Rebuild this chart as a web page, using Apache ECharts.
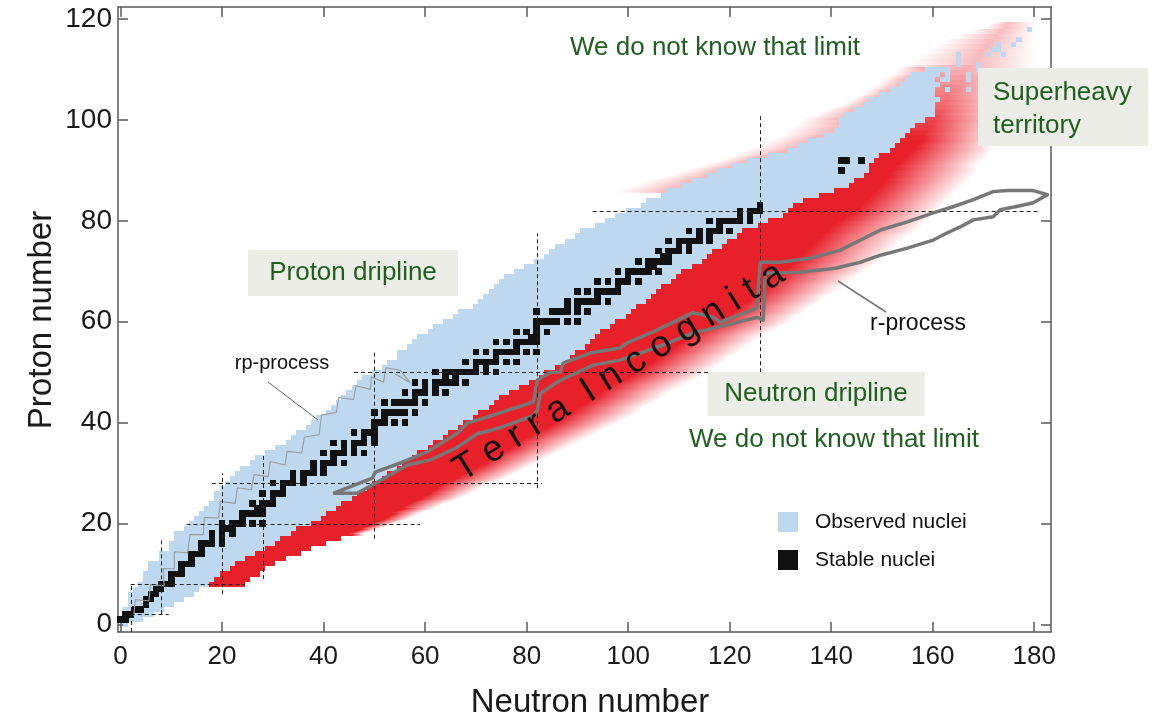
<!DOCTYPE html>
<html><head><meta charset="utf-8">
<script src="https://cdn.jsdelivr.net/npm/echarts@6/dist/echarts.min.js"></script>
<style>html,body{margin:0;padding:0;background:#fff}#c{width:1167px;height:721px}</style>
</head><body><div id="c"></div>
<script>
// ---------------- DATA ----------------
const xTicks = [0, 20, 40, 60, 80, 100, 120, 140, 160, 180];
const yTicks = [0, 20, 40, 60, 80, 100, 120];

// observed nuclei: [Z, Nmin, Nmax]
const observedRows = [
[0,1,1],[1,0,4],[2,1,6],[3,1,8],[4,2,10],[5,2,12],[6,2,14],[7,3,15],[8,4,17],[9,5,18],
[10,5,19],[11,6,21],[12,6,22],[13,8,24],[14,8,26],[15,10,28],[16,10,30],[17,11,31],[18,11,33],[19,13,34],
[20,14,37],[21,15,39],[22,16,40],[23,17,42],[24,18,43],[25,19,45],[26,19,46],[27,20,48],[28,21,49],[29,22,51],
[30,23,52],[31,24,54],[32,26,55],[33,27,57],[34,29,58],[35,31,60],[36,33,61],[37,34,63],[38,35,64],[39,37,66],
[40,38,67],[41,39,69],[42,41,70],[43,42,72],[44,43,73],[45,44,74],[46,45,76],[47,46,78],[48,47,80],[49,48,82],
[50,50,83],[51,52,85],[52,53,87],[53,55,88],[54,55,89],[55,57,91],[56,58,92],[57,59,93],[58,61,94],[59,62,96],
[60,64,97],[61,66,99],[62,67,100],[63,70,101],[64,71,103],[65,72,104],[66,73,105],[67,74,106],[68,75,108],[69,76,109],
[70,78,110],[71,80,112],[72,82,114],[73,84,115],[74,85,116],[75,86,118],[76,88,119],[77,90,121],[78,91,122],[79,94,125],
[80,96,127],[81,98,130],[82,100,131],[83,103,132],[84,104,134],[85,107,137],[86,108,140],[87,111,143],[88,113,144],[89,116,146],
[90,118,147],[91,121,147],[92,124,148],[93,128,149],[94,132,151],[95,134,152],[96,136,153],[97,139,154],[98,141,155],[99,142,156],
[100,142,158],[101,143,160],[102,145,160],[103,147,160],[104,148,160],[105,150,160],[106,152,160],[107,154,160],[108,155,160],[109,156,160],
[110,159,161]
];
// isolated observed superheavy nuclei: [N, Z]
const superheavyObserved = [
[161,104],[163,106],[167,106],[161,107],[162,108],[163,108],[167,108],[161,109],[163,109],[167,109],
[162,110],[163,110],[169,110],[165,111],[169,111],[165,112],[165,113],[171,113],[174,113],[172,114],
[173,114],[173,115],[176,115],[177,116],[179,118]
];
// stable nuclei: [Z, [N...]]
const stableNuclei = [
[1,[0,1]],[2,[1,2]],[3,[3,4]],[4,[5]],[5,[5,6]],[6,[6,7]],[7,[7,8]],[8,[8,9,10]],[9,[10]],[10,[10,11,12]],
[11,[12]],[12,[12,13,14]],[13,[14]],[14,[14,15,16]],[15,[16]],[16,[16,17,18,20]],[17,[18,20]],[18,[18,20,22]],
[19,[20,21,22]],[20,[20,22,23,24,26,28]],[21,[24]],[22,[24,25,26,27,28]],[23,[27,28]],[24,[26,28,29,30]],
[25,[30]],[26,[28,30,31,32]],[27,[32]],[28,[30,32,33,34,36]],[29,[34,36]],[30,[34,36,37,38,40]],[31,[38,40]],
[32,[38,40,41,42,44]],[33,[42]],[34,[40,42,43,44,46,48]],[35,[44,46]],[36,[42,44,46,47,48,50]],[37,[48,50]],
[38,[46,48,49,50]],[39,[50]],[40,[50,51,52,54,56]],[41,[52]],[42,[50,52,53,54,55,56,58]],
[44,[52,54,55,56,57,58,60]],[45,[58]],[46,[56,58,59,60,62,64]],[47,[60,62]],[48,[58,60,62,63,64,65,66,68]],
[49,[64,66]],[50,[62,64,65,66,67,68,69,70,72,74]],[51,[70,72]],[52,[68,70,71,72,73,74,76,78]],[53,[74]],
[54,[70,72,74,75,76,77,78,80,82]],[55,[78]],[56,[74,76,78,79,80,81,82]],[57,[81,82]],[58,[78,80,82,84]],
[59,[82]],[60,[82,83,84,85,86,88,90]],[62,[82,85,86,87,88,90,92]],[63,[88,90]],[64,[88,90,91,92,93,94,96]],
[65,[94]],[66,[90,92,94,95,96,97,98]],[67,[98]],[68,[94,96,98,99,100,102]],[69,[100]],
[70,[98,100,101,102,103,104,106]],[71,[104,105]],[72,[102,104,105,106,107,108]],[73,[107,108]],
[74,[106,108,109,110,112]],[75,[110,112]],[76,[108,110,111,112,113,114,116]],[77,[114,116]],
[78,[112,114,116,117,118,120]],[79,[118]],[80,[116,118,119,120,121,122,124]],[81,[122,124]],
[82,[122,124,125,126]],[83,[126]],[90,[142]],[92,[142,143,146]]
];
// predicted (unobserved) neutron-rich nuclei: [Z, N where solid red ends, N where fade ends]
const predictedRows = [
[8,24.5,24.5],[9,25.5,25.5],[10,27.5,27.5],[11,28.5,28.5],[12,30.5,30.5],[13,32.5,32.5],[14,35.5,35.5],[15,37.5,37.5],[16,40.5,40.5],[17,43.5,43.5],
[18,45.5,48],[19,47.5,51],[20,50,54],[21,52,57],[22,54,59],[23,55,62],[24,57,64],[25,59,67],[26,61,69],[27,62,71],
[28,64,73],[29,66,76],[30,68,78],[31,70,80],[32,72,82],[33,73,84],[34,75,86],[35,77,88],[36,78,90],[37,80,92],
[38,82,94],[39,84,96],[40,86,98],[41,87,100],[42,89,102],[43,90,103],[44,92,105],[45,93,107],[46,95,108],[47,96,110],
[48,98,112],[49,100,114],[50,102,116],[51,103,117],[52,105,119],[53,106,120],[54,108,122],[55,109,123],[56,111,125],[57,112,126],
[58,114,128],[59,116,130],[60,118,132],[61,119,133],[62,121,135],[63,122,136],[64,123,138],[65,125,139],[66,126,141],[67,127,142],
[68,128,144],[69,130,145],[70,131,147],[71,132,148],[72,133,150],[73,134,151],[74,135,152],[75,136,153],[76,137,154],[77,138,155],
[78,139,157],[79,140,158],[80,142,159],[81,143,160],[82,145,161],[83,146,162],[84,147,163],[85,148,164],[86,149,165],[87,150,166],
[88,151,167],[89,151,168],[90,152,169],[91,153,169],[92,154,170],[93,155,171],[94,156,172],[95,157,172],[96,158,173],[97,158,173],
[98,159,174],[99,160,174],[100,161,175],[101,161,175],[102,162,176],[103,162,176],[104,163,177],[105,163,177],[106,164,178],[107,165,178],
[108,166,179],[109,166,179],[110,167,179],[111,168,180],[112,169,180],[113,169,180],[114,170,180],[115,171,180],[116,172,180],[117,173,180],
[118,174,180],[119,175,180]
];
// proton-rich predicted fade (superheavy side): [Z, N where fade starts]
const protonSideRows = [
[86,98],[87,101],[88,104],[89,108],[90,111],[91,115],[92,118],[93,121],[94,123],[95,126],[96,128],[97,130],
[98,131],[99,133],[100,134],[101,137],[102,139],[103,142],[104,144],[105,146],[106,147],[107,149],[108,150],[109,152],[110,153],
[111,155],[112,156],[113,158],[114,160],[115,161],[116,163],[117,166],[118,169],[119,172]
];
// magic-number guide lines: [N, Zfrom, Zto] and [Z, Nfrom, Nto]
const magicN = [[2,-1.5,8],[8,2,17],[20,6,30],[28,9,34],[50,17,54],[82,27,77.5],[126,50,101]];
const magicZ = [[2,2,9.5],[8,2,24.5],[20,13,59],[28,18,83],[50,46,116],[82,93,181]];
// rp-process path [N, Z]
const rpProcess = [
[2.6,1.7],[2.9,4.9],[5.6,4.7],[5.9,7.9],[8.6,7.7],[8.4,11.1],[10.6,11],[10.6,14.4],[13.2,14.2],[13.7,17.8],
[16.3,17.8],[16.5,21.2],[19.3,21.1],[19.7,24.4],[22.6,24],[23,27.1],[25.8,26.7],[26.3,29.7],[29.1,29.3],[29.5,32.3],
[32.4,31.6],[32.8,34.3],[35.7,34],[36.2,37.1],[39.1,37.6],[39.6,41.5],[42.5,42],[43,45],[45.9,44.6],[46.4,47.3],
[49.2,46.6],[49.4,49.1],[51.8,48],[52.3,50.9],[55.1,50.4],[57.1,47.9],[54,49.7]
];
// r-process region outline [N, Z]
const rProcess = [
[41.9,26.0],[49.6,29.0],[50.2,30.2],[55.1,32.0],[60.4,34.2],[66.3,37.9],[68.3,39.9],[72.2,41.1],[81.3,44.1],[82.1,48.4],
[84.7,50.0],[86.6,50.0],[87.2,51.8],[92.5,53.8],[98.4,54.8],[99.8,55.8],[104.9,58.0],[112.8,61.8],[116.8,60.9],[118.1,59.9],
[125.4,62.7],[126.0,71.8],[129.9,71.8],[135.9,72.6],[141.8,74.2],[149.7,78.2],[155.0,79.8],[160.1,81.6],[164.0,82.8],[168.0,84.2],
[171.9,85.8],[174.7,86.0],[179.8,86.0],[182.6,85.2],[179.8,83.6],[177.2,83.0],[173.3,82.2],[171.9,80.8],[168.0,80.2],[165.4,78.8],
[162.8,77.6],[160.1,76.2],[155.0,74.6],[149.7,73.2],[145.7,71.8],[140.8,70.6],[133.9,69.8],[127.0,69.6],[126.6,60.3],[125.4,60.9],
[116.8,58.7],[112.8,57.8],[106.9,55.4],[98.4,52.4],[93.1,51.4],[86.6,48.4],[82.7,45.8],[82.1,42.4],[81.3,41.4],[74.8,39.0],
[70.3,37.8],[66.3,35.1],[61.0,32.6],[56.5,31.6],[50.6,28.2],[46.6,26.0],[41.9,26.0]
];

// ---------------- HELPERS ----------------
const RED = [232, 32, 42];
const BLUE = '#bdd8ef';
const GREEN = '#1f5f1f';
const SANS = "'Liberation Sans', Arial, sans-serif";
const PINK_MAX = 0.3;
const rgba = a => `rgba(${RED[0]},${RED[1]},${RED[2]},${a})`;
const peakAlpha = z => z <= 96 ? 1 : Math.max(0.3, 1 - (z - 96) * 0.045);
const obsMap = {}; observedRows.forEach(r => obsMap[r[0]] = r);
const pinkMap = {}; protonSideRows.forEach(r => pinkMap[r[0]] = r[1]);

const stableCells = [];
stableNuclei.forEach(([z, ns]) => ns.forEach(n => stableCells.push([n, z])));

function box2(api, x0, x1, y0, y1) {
  const p0 = api.coord([x0, y1]), p1 = api.coord([x1, y0]);
  const X0 = Math.round(p0[0]), X1 = Math.round(p1[0]);
  const Y0 = Math.round(p0[1]), Y1 = Math.round(p1[1]);
  return { x: X0, y: Y0, width: X1 - X0, height: Y1 - Y0 };
}

function profile(row) {
  const z = row[0], S = row[1], E = row[2];
  const obs = obsMap[z], P = pinkMap[z];
  const bmin = obs ? obs[1] - 0.5 : S, bmax = obs ? obs[2] + 0.5 : S;
  const Lsolid = obs ? Math.max(bmin + 1, Math.min(bmax - 6, S - 6)) : (P !== undefined ? P : S);
  return { z, S, E, bmin, bmax, P, hasBlue: !!obs, Lsolid };
}
const ctrl = [];
predictedRows.forEach(r => { if (r[0] >= 18) ctrl.push({ y: r[0], p: profile(r) }); });
ctrl.unshift({ y: ctrl[0].y - 0.5, p: ctrl[0].p });
ctrl.push({ y: ctrl[ctrl.length - 1].y + 0.5, p: ctrl[ctrl.length - 1].p });
const bandIdx = ctrl.slice(0, -1).map((c, i) => [c.y, i]);
const crispRows = predictedRows.filter(r => r[0] < 18);
const pinkCtrl = [];
protonSideRows.forEach(r => { if (obsMap[r[0]]) pinkCtrl.push({ y: r[0], P: r[1], z: r[0] }); });
pinkCtrl.unshift({ y: pinkCtrl[0].y - 0.5, P: pinkCtrl[0].P, z: pinkCtrl[0].z });
pinkCtrl.push({ y: pinkCtrl[pinkCtrl.length - 1].y + 0.5, P: pinkCtrl[pinkCtrl.length - 1].P, z: pinkCtrl[pinkCtrl.length - 1].z });
const pinkIdx = pinkCtrl.slice(0, -1).map((c, i) => [c.y, i]);

function perpGrad(api, ax, bx, y0, y1, stopsN, mY) {
  const A = api.coord([ax, y0]), B = api.coord([bx, y1]);
  let dx = B[0] - A[0], dy = B[1] - A[1];
  const len = Math.hypot(dx, dy) || 1;
  let nx = -dy / len, ny = dx / len;
  if (nx < 0) { nx = -nx; ny = -ny; }
  const O = api.coord([stopsN[0][0], mY]);
  const proj = v => { const p = api.coord([v, mY]); return (p[0] - O[0]) * nx + (p[1] - O[1]) * ny; };
  const tEnd = proj(stopsN[stopsN.length - 1][0]) || 1;
  let last = 0;
  const stops = stopsN.map(([v, a]) => { let o = Math.min(1, Math.max(last, proj(v) / tEnd)); last = o; return { offset: o, color: rgba(a) }; });
  return new echarts.graphic.LinearGradient(O[0], O[1], O[0] + nx * tEnd, O[1] + ny * tEnd, stops, true);
}

const chart = echarts.init(document.getElementById('c'));

function axisCommon(pos, ticks, showLabel, font) {
  return {
    type: 'value', position: pos,
    axisLine: { show: true, onZero: false, lineStyle: { color: '#5a5a5a', width: 1.5 } },
    axisTick: { show: true, inside: true, length: 10, customValues: ticks, lineStyle: { color: '#5a5a5a', width: 1.5 } },
    axisLabel: showLabel ? Object.assign({ customValues: ticks, color: '#1a1a1a' }, font) : { show: false },
    splitLine: { show: false }
  };
}
const xMin = -0.5, xMax = 183.3, yMin = -1.5, yMax = 122.4;

const option = {
  animation: false,
  backgroundColor: '#fff',
  grid: { left: 118, right: 116, top: 7, bottom: 89 },
  xAxis: [
    Object.assign(axisCommon('bottom', xTicks, true, { fontSize: 26, fontFamily: SANS, margin: 12 }), { min: xMin, max: xMax }),
    Object.assign(axisCommon('top', xTicks, false), { min: xMin, max: xMax })
  ],
  yAxis: [
    Object.assign(axisCommon('left', yTicks, true, { fontSize: 28, fontFamily: SANS, margin: 6 }), { min: yMin, max: yMax }),
    Object.assign(axisCommon('right', yTicks, false), { min: yMin, max: yMax })
  ],
  series: [
    { // predicted nuclei, light-Z crisp rows
      type: 'custom', z: 1, silent: true, data: crispRows,
      renderItem(params, api) {
        const z = api.value(0), S = api.value(1);
        const obs = obsMap[z];
        return { type: 'rect', shape: box2(api, obs[2] + 0.5, S, z - 0.5, z + 0.5), style: { fill: rgba(1) } };
      }
    },
    { // predicted nuclei, smooth bands with fade
      type: 'custom', z: 1, silent: true, data: bandIdx,
      renderItem(params, api) {
        const i = api.value(1);
        const c0 = ctrl[i], c1 = ctrl[i + 1];
        const a = c0.p, b = c1.p;
        const y0 = c0.y, y1 = c1.y, mY = (y0 + y1) / 2;
        const avg = k => (a[k] + b[k]) / 2;
        const pk = peakAlpha(mY);
        const topMode = !(a.hasBlue && b.hasBlue);
        let La, Lb, fill;
        if (topMode) {
          La = a.P !== undefined ? a.P : a.Lsolid; Lb = b.P !== undefined ? b.P : b.Lsolid;
          const L = (La + Lb) / 2;
          const p0 = api.coord([L, mY]), p1 = api.coord([avg('E'), mY]);
          const W = avg('E') - L;
          const st = [[L, 0], [avg('bmin'), PINK_MAX], [avg('bmax'), pk], [avg('S'), pk], [avg('E'), 0]];
          let last = 0;
          fill = new echarts.graphic.LinearGradient(p0[0], 0, p1[0], 0,
            st.map(([v, al]) => { const o = Math.min(1, Math.max(last, (v - L) / W)); last = o; return { offset: o, color: rgba(al) }; }), true);
        } else {
          La = a.Lsolid; Lb = b.Lsolid;
          fill = perpGrad(api, a.E, b.E, y0, y1, [[(La + Lb) / 2, pk], [avg('S'), pk], [avg('E'), 0]], mY);
        }
        const P0 = api.coord([La, y0]), P1 = api.coord([a.E, y0]), P2 = api.coord([b.E, y1]), P3 = api.coord([Lb, y1]);
        const Y0 = Math.round(P0[1]), Y1 = Math.round(P3[1]);
        return { type: 'polygon', shape: { points: [[P0[0], Y0], [P1[0], Y0], [P2[0], Y1], [P3[0], Y1]] }, style: { fill } };
      }
    },
    { // proton-side pink glow
      type: 'custom', z: 1, silent: true, data: pinkIdx,
      renderItem(params, api) {
        const i = api.value(1);
        const c0 = pinkCtrl[i], c1 = pinkCtrl[i + 1];
        const y0 = c0.y, y1 = c1.y, mY = (y0 + y1) / 2;
        const o0 = obsMap[c0.z], o1 = obsMap[c1.z];
        const R0 = Math.max(o0[1] + 0.5, o0[2] - 2), R1 = Math.max(o1[1] + 0.5, o1[2] - 2);
        const bm = (o0[1] + o1[1]) / 2 - 0.5;
        const fill = perpGrad(api, c0.P, c1.P, y0, y1, [[(c0.P + c1.P) / 2, 0], [bm, PINK_MAX]], mY);
        const P0 = api.coord([c0.P, y0]), P1 = api.coord([R0, y0]), P2 = api.coord([R1, y1]), P3 = api.coord([c1.P, y1]);
        const Y0 = Math.round(P0[1]), Y1 = Math.round(P3[1]);
        return { type: 'polygon', shape: { points: [[P0[0], Y0], [P1[0], Y0], [P2[0], Y1], [P3[0], Y1]] }, style: { fill } };
      }
    },
    { // observed nuclei rows
      type: 'custom', z: 2, silent: true, data: observedRows,
      renderItem(params, api) {
        const z = api.value(0), a = api.value(1), b = api.value(2);
        return { type: 'rect', shape: box2(api, a - 0.5, b + 0.5, z - 0.5, z + 0.5), style: { fill: BLUE } };
      }
    },
    { // isolated observed superheavies
      type: 'custom', z: 2, silent: true, data: superheavyObserved,
      renderItem(params, api) {
        const n = api.value(0), z = api.value(1);
        return { type: 'rect', shape: box2(api, n - 0.5, n + 0.5, z - 0.5, z + 0.5), style: { fill: BLUE } };
      }
    },
    { // stable nuclei
      type: 'custom', z: 3, silent: true, data: stableCells,
      renderItem(params, api) {
        const n = api.value(0), z = api.value(1);
        return { type: 'rect', shape: box2(api, n - 0.65, n + 0.65, z - 0.65, z + 0.65), style: { fill: '#111' } };
      }
    },
    { // rp-process
      type: 'line', z: 4, silent: true, showSymbol: false, symbol: 'none',
      data: rpProcess, lineStyle: { color: '#9a9a9a', width: 1.1 }
    },
    { // magic N lines
      type: 'custom', z: 5, silent: true, data: magicN,
      renderItem(params, api) {
        const p0 = api.coord([api.value(0), api.value(1)]);
        const p1 = api.coord([api.value(0), api.value(2)]);
        const x = Math.round(p0[0]) + 0.5;
        return { type: 'line', shape: { x1: x, y1: p0[1], x2: x, y2: p1[1] },
          style: { stroke: '#222', lineWidth: 1, lineDash: [4, 3] } };
      }
    },
    { // magic Z lines
      type: 'custom', z: 5, silent: true, data: magicZ,
      renderItem(params, api) {
        const p0 = api.coord([api.value(1), api.value(0)]);
        const p1 = api.coord([api.value(2), api.value(0)]);
        const y = Math.round(p0[1]) + 0.5;
        return { type: 'line', shape: { x1: p0[0], y1: y, x2: p1[0], y2: y },
          style: { stroke: '#222', lineWidth: 1, lineDash: [4, 3] } };
      }
    },
    { // r-process
      type: 'line', z: 6, silent: true, showSymbol: false, symbol: 'none',
      data: rProcess, lineStyle: { color: '#777', width: 3.5, join: 'round' }
    }
  ]
};
chart.setOption(option);

// ---------------- ANNOTATIONS ----------------
const txt = (x, y, text, size, fill, extra) => ({
  type: 'text', x, y, z: 100,
  style: Object.assign({ text, fill, fontSize: size, fontFamily: SANS, align: 'center', verticalAlign: 'middle' }, extra || {})
});
const box = (x, y, w, h) => ({ type: 'rect', z: 99, shape: { x, y, width: w, height: h }, style: { fill: '#ecede6' } });
const seg = (x1, y1, x2, y2, color, w) => ({ type: 'line', z: 100, shape: { x1, y1, x2, y2 }, style: { stroke: color, lineWidth: w } });

const g = [
  txt(715, 48, 'We do not know that limit', 26, GREEN),
  txt(834, 440, 'We do not know that limit', 26, GREEN),
  box(248, 250, 210, 46), txt(353, 273, 'Proton dripline', 26, GREEN),
  box(708, 372, 217, 44), txt(816, 394, 'Neutron dripline', 26, GREEN),
  box(978, 68, 170, 78),
  txt(993, 93, 'Superheavy', 26, GREEN, { align: 'left' }),
  txt(993, 126, 'territory', 26, GREEN, { align: 'left' }),
  txt(282, 363, 'rp-process', 20, '#111'),
  seg(268, 382, 318, 420, '#666', 1),
  txt(918, 324, 'r-process', 23, '#111'),
  seg(886, 312, 838, 281, '#777', 1.5),
  { type: 'text', x: 619, y: 372, z: 100, rotation: 32 * Math.PI / 180,
    style: { text: 'T e r r a  I n c o g n i t a', fill: '#111', fontSize: 37, fontFamily: SANS, align: 'center', verticalAlign: 'middle' } },
  { type: 'rect', z: 100, shape: { x: 778, y: 512, width: 20, height: 20 }, style: { fill: BLUE } },
  txt(815, 522, 'Observed nuclei', 21, '#111', { align: 'left' }),
  { type: 'rect', z: 100, shape: { x: 778, y: 550, width: 20, height: 20 }, style: { fill: '#111' } },
  txt(815, 560, 'Stable nuclei', 21, '#111', { align: 'left' }),
  txt(590, 703, 'Neutron number', 33, '#1a1a1a'),
  { type: 'text', x: 42, y: 320, z: 100, rotation: Math.PI / 2,
    style: { text: 'Proton number', fill: '#1a1a1a', fontSize: 33, fontFamily: SANS, align: 'center', verticalAlign: 'middle' } }
];
chart.setOption({ graphic: g });
</script>
</body></html>
